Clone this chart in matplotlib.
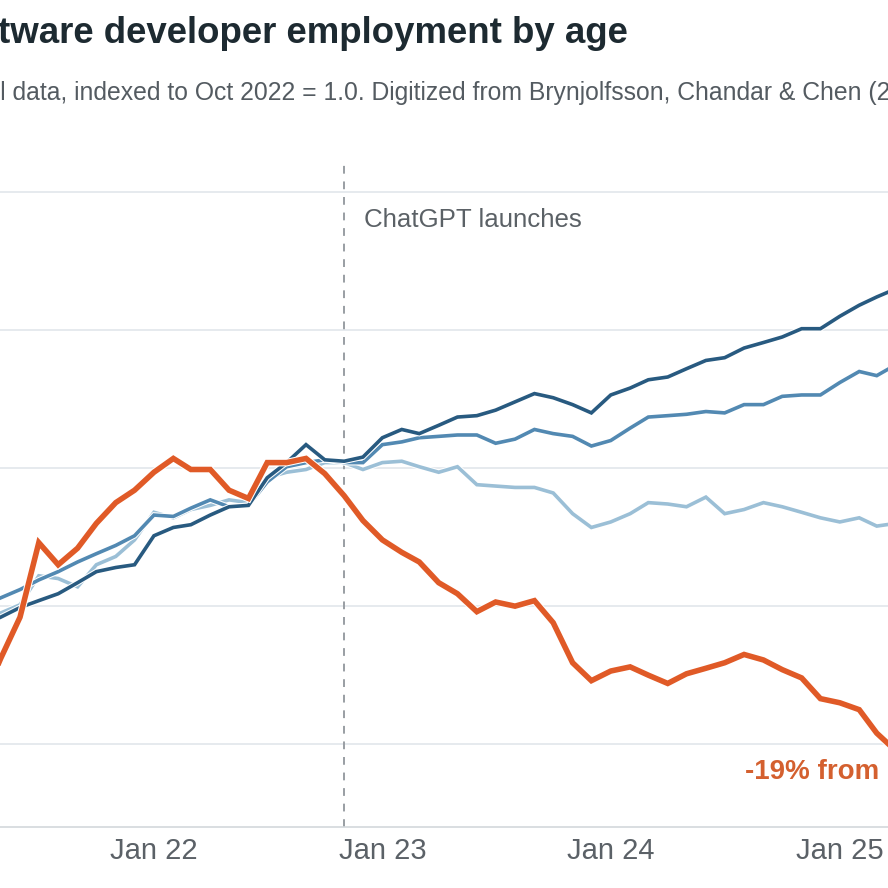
# software developer employment by age, indexed to Oct 2022

import matplotlib
matplotlib.use("Agg")
import matplotlib.pyplot as plt
import matplotlib.patheffects as pe
import pandas as pd

months = pd.date_range("2021-04-01", "2025-04-01", freq="MS")

age_22_25 = [0.830, 0.862, 0.892, 0.946, 0.930, 0.942, 0.960, 0.975, 0.984,
             0.997, 1.007, 0.999, 0.999, 0.984, 0.978, 1.004, 1.004, 1.007, 0.996, 0.980, 0.962,
             0.948, 0.939, 0.932, 0.917, 0.909, 0.896, 0.903, 0.900, 0.904, 0.888, 0.859, 0.846,
             0.853, 0.856, 0.850, 0.844, 0.851, 0.855, 0.859, 0.865, 0.861, 0.854, 0.848, 0.833,
             0.830, 0.825, 0.808, 0.795]
age_26_30 = [0.888, 0.895, 0.901, 0.922, 0.920, 0.914, 0.930, 0.936, 0.948,
             0.968, 0.964, 0.970, 0.973, 0.977, 0.975, 0.993, 0.997, 0.999, 1.004, 1.004, 0.999,
             1.004, 1.005, 1.001, 0.997, 1.001, 0.988, 0.987, 0.986, 0.986, 0.982, 0.967, 0.957,
             0.961, 0.967, 0.975, 0.974, 0.972, 0.979, 0.967, 0.970, 0.975, 0.972, 0.968, 0.964,
             0.961, 0.964, 0.958, 0.960]
age_31_34 = [0.900, 0.906, 0.912, 0.919, 0.925, 0.932, 0.938, 0.944, 0.951,
             0.966, 0.965, 0.971, 0.977, 0.972, 0.973, 0.990, 1.001, 1.004, 1.006, 1.004, 1.004,
             1.017, 1.019, 1.022, 1.023, 1.024, 1.024, 1.018, 1.021, 1.028, 1.025, 1.023, 1.016,
             1.020, 1.029, 1.037, 1.038, 1.039, 1.041, 1.040, 1.046, 1.046, 1.052, 1.053, 1.053,
             1.062, 1.070, 1.067, 1.075]
age_35_plus = [0.886, 0.892, 0.899, 0.904, 0.909, 0.917, 0.925, 0.928, 0.930,
               0.951, 0.957, 0.959, 0.966, 0.972, 0.973, 0.993, 1.004, 1.017, 1.006, 1.005, 1.008,
               1.022, 1.028, 1.025, 1.031, 1.037, 1.038, 1.042, 1.048, 1.054, 1.051, 1.046, 1.040,
               1.053, 1.058, 1.064, 1.066, 1.072, 1.078, 1.080, 1.087, 1.091, 1.095, 1.101, 1.101,
               1.110, 1.118, 1.124, 1.130]

tick_dates = ["2022-01-01", "2023-01-01", "2024-01-01", "2025-01-01"]
tick_labels = ["Jan 22", "Jan 23", "Jan 24", "Jan 25"]
grid_vals = [0.8, 0.9, 1.0, 1.1, 1.2]
launch = pd.Timestamp("2022-11-01")

title = "Software developer employment by age"
subtitle = "ADP payroll data, indexed to Oct 2022 = 1.0. Digitized from Brynjolfsson, Chandar & Chen (2025)"
font = "Liberation Sans"

fig = plt.figure(figsize=(8.88, 8.88), dpi=100)
fig.patch.set_facecolor("white")
ax = fig.add_axes([0.0, 61/888, 1.0, 662/888])

series = [
    (age_26_30, "#9bbfd6", 2.6),
    (age_31_34, "#5289b2", 2.6),
    (age_35_plus, "#285a80", 2.6),
    (age_22_25, "#e05a27", 4.0),
]
for vals, col, lw in series:
    ax.plot(months, vals, color=col, lw=lw, solid_joinstyle="miter",
            path_effects=[pe.Stroke(linewidth=lw + 1.5, foreground="white"), pe.Normal()])

ax.axvline(launch, color="#999ea3", lw=1.4, ls=(0, (4, 4)), zorder=1)
ax.annotate("ChatGPT launches", xy=(launch, 1.1746), xytext=(14, 0),
            textcoords="offset points", va="baseline", ha="left",
            fontsize=18.6, color="#5b6166", family=font)
ax.text(pd.Timestamp("2024-08-03"), 0.775, "-19% from peak", fontsize=20,
        fontweight="bold", color="#d4602f", family=font, va="baseline", ha="left")

ax.set_xlim(pd.Timestamp("2021-04-30"), pd.Timestamp("2025-03-19"))
ax.set_ylim(0.74, 1.2196)
ax.set_yticks(grid_vals)
ax.yaxis.grid(True, color="#dfe4e9", lw=1.1)
ax.set_axisbelow(True)
ax.tick_params(axis="y", left=False, labelleft=False)
ax.set_xticks(pd.to_datetime(tick_dates))
ax.set_xticklabels(tick_labels, fontsize=21, color="#5b6167", family=font)
ax.tick_params(axis="x", length=0, pad=7)
for s in ["top", "left", "right"]:
    ax.spines[s].set_visible(False)
ax.spines["bottom"].set_color("#d3d8dc")
ax.spines["bottom"].set_linewidth(1.2)

fig.text(628/888, 1 - 43/888, title, ha="right", va="baseline", fontsize=26.4,
         fontweight="bold", color="#1d2a31", family=font)

# shift subtitle so the visible part starts where the reference crop does
fig.canvas.draw()
renderer = fig.canvas.get_renderer()
probe = fig.text(0, 0, subtitle[:subtitle.index("l data")], fontsize=17.8, family=font)
shift = probe.get_window_extent(renderer).width
probe.remove()
fig.text(-shift / fig.bbox.width, 1 - 100/888, subtitle, ha="left", va="baseline",
         fontsize=17.8, color="#545b61", family=font)

fig.savefig("out.png", dpi=100)
